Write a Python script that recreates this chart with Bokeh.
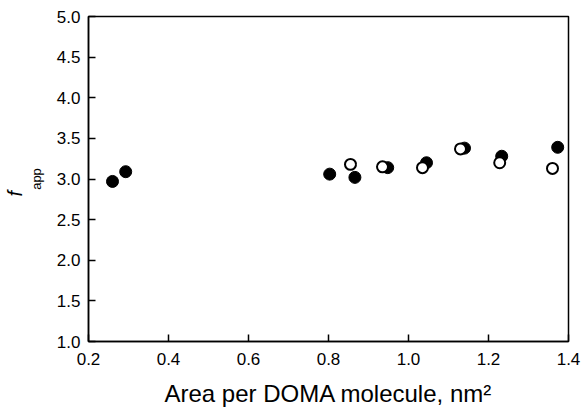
from bokeh.plotting import figure
from bokeh.models import FixedTicker, NumeralTickFormatter, Title
from bokeh.embed import file_html
from bokeh.resources import INLINE

filled_x = [0.26, 0.293, 0.803, 0.866, 0.948, 1.045, 1.14, 1.233, 1.373]
filled_y = [2.97, 3.09, 3.06, 3.02, 3.14, 3.20, 3.38, 3.28, 3.39]
open_x = [0.855, 0.935, 1.035, 1.13, 1.228, 1.36]
open_y = [3.18, 3.15, 3.14, 3.37, 3.20, 3.13]
x_ticks = [0.2, 0.4, 0.6, 0.8, 1.0, 1.2, 1.4]
y_ticks = [1.0, 1.5, 2.0, 2.5, 3.0, 3.5, 4.0, 4.5, 5.0]

FONT = "Liberation Sans"

p = figure(width=581, height=410, output_backend="svg", toolbar_location=None,
           x_range=(0.2, 1.4), y_range=(1.0, 5.0),
           min_border_left=88, min_border_right=13, min_border_top=16, min_border_bottom=69)
p.xgrid.visible = False
p.ygrid.visible = False
p.outline_line_color = "black"
p.outline_line_width = 1.5
p.background_fill_color = "white"
p.border_fill_color = "white"

for ax in (p.xaxis[0], p.yaxis[0]):
    ax.axis_line_width = 1.5
    ax.axis_line_color = "black"
    ax.major_tick_in = 7
    ax.major_tick_out = 0
    ax.major_tick_line_width = 1.5
    ax.minor_tick_line_color = None
    ax.major_label_text_font = FONT
    ax.major_label_text_font_size = "17px"
    ax.major_label_text_color = "black"
    ax.formatter = NumeralTickFormatter(format="0.0")

p.xaxis.ticker = FixedTicker(ticks=x_ticks)
p.yaxis.ticker = FixedTicker(ticks=y_ticks)
p.xaxis.major_label_standoff = 11
p.yaxis.major_label_standoff = 8
p.xaxis.axis_label = "Area per DOMA molecule, nm\u00b2"
p.xaxis.axis_label_text_font = FONT
p.xaxis.axis_label_text_font_size = "24px"
p.xaxis.axis_label_text_font_style = "normal"
p.xaxis.axis_label_text_color = "black"
p.xaxis.axis_label_standoff = 12

# y label: "app" subscript as the axis label, italic "f" as a left-side title
p.yaxis.axis_label = "app"
p.yaxis.axis_label_text_font = FONT
p.yaxis.axis_label_text_font_size = "13px"
p.yaxis.axis_label_text_font_style = "normal"
p.yaxis.axis_label_text_color = "black"
p.yaxis.axis_label_standoff = 10

p.add_layout(Title(text="f", text_font=FONT, text_font_style="italic", text_font_size="20px",
                   text_color="black", align="left", offset=145, standoff=0,
                   vertical_align="bottom"), "left")

p.scatter(filled_x, filled_y, size=12, marker="circle", fill_color="black", line_color="black")
p.scatter(open_x, open_y, size=11, marker="circle", fill_color="white", line_color="black", line_width=2)

open("out.html", "w").write(file_html(p, INLINE))
